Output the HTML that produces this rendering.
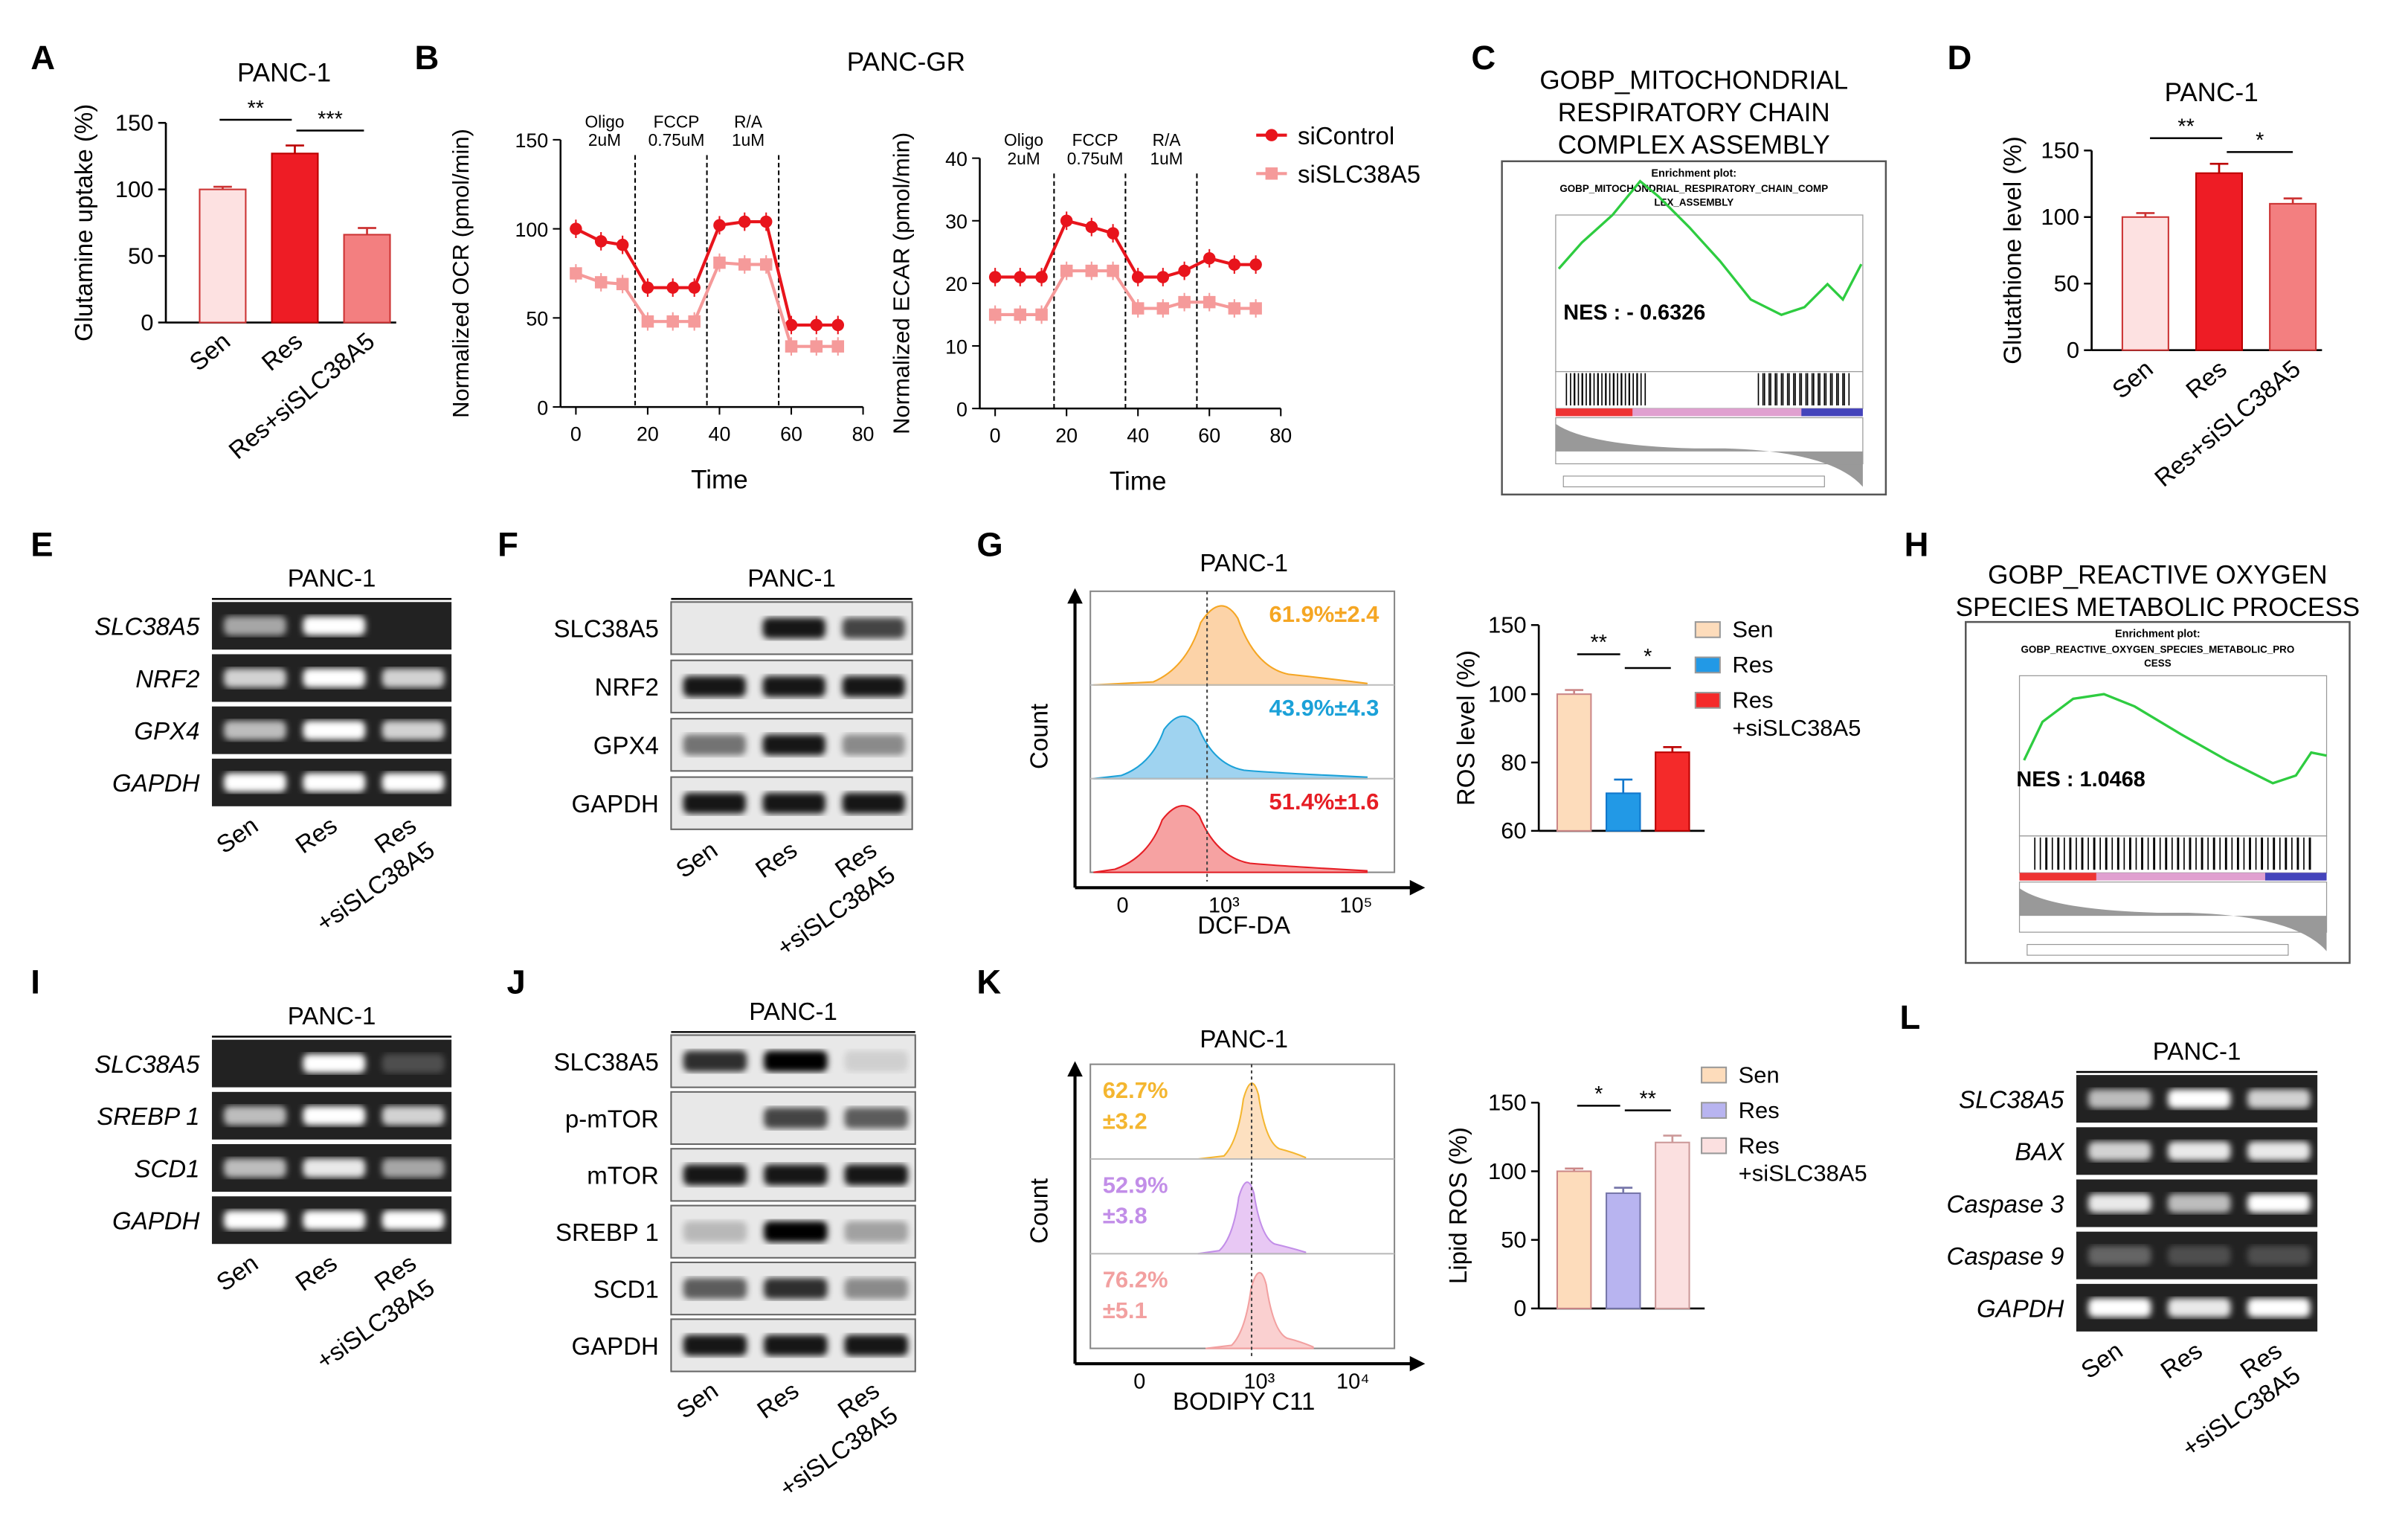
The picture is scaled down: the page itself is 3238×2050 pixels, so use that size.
<!DOCTYPE html>
<html><head><meta charset="utf-8"><style>
html,body{margin:0;padding:0;background:#fff}
svg{display:block}
text{font-family:"Liberation Sans",Arial,sans-serif}
</style></head><body>
<svg id="fig" width="3238" height="2050" viewBox="0 0 1568 993" preserveAspectRatio="none" xmlns="http://www.w3.org/2000/svg">
<defs>
<filter id="blur1"><feGaussianBlur stdDeviation="2"/></filter>
</defs>
<g font-weight="bold" font-size="22" fill="#000">
<text x="20" y="45">A</text><text x="270" y="45">B</text><text x="958" y="45">C</text><text x="1268" y="45">D</text>
<text x="20" y="362">E</text><text x="324" y="362">F</text><text x="636" y="362">G</text><text x="1240" y="362">H</text>
<text x="20" y="647">I</text><text x="330" y="647">J</text><text x="636" y="647">K</text><text x="1237" y="670">L</text>
</g>
<g id="gA"></g>
<g id="gB"></g>
<g id="gC"></g>
<g id="gD"></g>
<g id="gGel"></g>
<g id="gG"></g>
<g id="gK"></g>
</svg>
<script>
const barCats=["Sen","Res","Res+siSLC38A5"];
const glnUptake=[100,127,66];
const glnErr=[2,6,5];
const gshLevel=[100,133,110];
const gshErr=[3,7,4];
const seahorseTime=[0,7,13,20,27,33,40,47,53,60,67,73];
const ocrControl=[100,93,91,67,67,67,102,104,104,46,46,46];
const ocrSi=[75,70,69,48,48,48,81,80,80,34,34,34];
const ecarControl=[21,21,21,30,29,28,21,21,22,24,23,23];
const ecarSi=[15,15,15,22,22,22,16,16,17,17,16,16];
const timeTicks=[0,20,40,60,80];
const rosLevel=[100,71,83];
const rosErr=[3,4,1.5];
const lipidRos=[100,84,121];
const lipidErr=[2,4,5];

const NS="http://www.w3.org/2000/svg";
const svg=document.getElementById('fig');
function el(parent,tag,attrs,txt){const e=document.createElementNS(NS,tag);for(const k in attrs)e.setAttribute(k,attrs[k]);if(txt!==undefined)e.textContent=txt;parent.appendChild(e);return e;}
function lin(d0,d1,r0,r1){return v=>r0+(v-d0)*(r1-r0)/(d1-d0);}

function barChart(g,o){
  const y=o.yfn||lin(o.ymin,o.ymax,o.y0,o.y1);
  el(g,'line',{x1:o.x0,y1:o.y0,x2:o.x0,y2:o.y1,stroke:'#000','stroke-width':1.3});
  el(g,'line',{x1:o.x0,y1:o.y0,x2:o.xEnd,y2:o.y0,stroke:'#000','stroke-width':1.3});
  o.ticks.forEach(t=>{el(g,'line',{x1:o.x0-5,y1:y(t),x2:o.x0,y2:y(t),stroke:'#000','stroke-width':1.2});
    const tx=el(g,'text',{x:o.x0-8,y:y(t)+5,'text-anchor':'end','font-size':o.fs||15},t);
    });
  const lab=el(g,'text',{transform:`translate(${o.labX},${(o.y0+o.y1)/2}) rotate(-90)`,'text-anchor':'middle','font-size':o.lfs||16},o.ylabel);
  
  o.vals.forEach((v,i)=>{const cx=o.x0+o.gap+i*o.step;
    const r=el(g,'rect',{x:cx,y:y(v),width:o.bw,height:o.y0-y(v),fill:o.colors[i],stroke:o.stroke[i],'stroke-width':1});
    
    
    const m=cx+o.bw/2,e=o.err[i];
    el(g,'line',{x1:m,y1:y(v),x2:m,y2:y(v+e),stroke:o.stroke[i],'stroke-width':1.3});
    el(g,'line',{x1:m-6,y1:y(v+e),x2:m+6,y2:y(v+e),stroke:o.stroke[i],'stroke-width':1.3});
    if(o.catLabels){const t=el(g,'text',{transform:`translate(${m+6},${o.y0+14}) rotate(-40)`,'text-anchor':'end','font-size':o.cfs||16},o.cats[i]);
      }
  });
  (o.sig||[]).forEach(s=>{el(g,'line',{x1:s[0],y1:s[2],x2:s[1],y2:s[2],stroke:'#000','stroke-width':1.2});
    el(g,'text',{x:(s[0]+s[1])/2,y:s[2]-3,'text-anchor':'middle','font-size':14},s[3]);});
}
const gA=document.getElementById('gA');
el(gA,'text',{x:185,y:53,'text-anchor':'middle','font-size':17},'PANC-1');
barChart(gA,{x0:108,xEnd:258,y0:210,y1:80,ymin:0,ymax:150,ticks:[0,50,100,150],vals:glnUptake,err:glnErr,cats:barCats,
 colors:['#fde1e1','#ee1c25','#f37f80'],stroke:['#c33','#b00','#c33'],gap:22,step:47,bw:30,labX:60,ylabel:'Glutamine uptake (%)',catLabels:true,
 sig:[[143,190,78,'**'],[193,237,85,'***']]});
const gD=document.getElementById('gD');
el(gD,'text',{x:1440,y:66,'text-anchor':'middle','font-size':17},'PANC-1');
barChart(gD,{x0:1362,xEnd:1512,y0:228,y1:98,ymin:0,ymax:150,ticks:[0,50,100,150],vals:gshLevel,err:gshErr,cats:barCats,
 colors:['#fde1e1','#ee1c25','#f37f80'],stroke:['#c33','#b00','#c33'],gap:20,step:48,bw:30,labX:1316,ylabel:'Glutathione level (%)',catLabels:true,
 sig:[[1400,1447,90,'**'],[1450,1493,99,'*']]});

const gB=document.getElementById('gB');
el(gB,'text',{x:590,y:46,'text-anchor':'middle','font-size':17},'PANC-GR');
function seahorse(o){
  const x=lin(0,80,o.x0,o.x1),y=lin(0,o.ymax,o.y0,o.y1);
  el(gB,'line',{x1:o.x0-10,y1:o.y0,x2:o.x0-10,y2:o.y1,stroke:'#000','stroke-width':1.2});
  el(gB,'line',{x1:o.x0-10,y1:o.y0,x2:o.x1,y2:o.y0,stroke:'#000','stroke-width':1.2});
  o.yt.forEach(t=>{el(gB,'line',{x1:o.x0-15,y1:y(t),x2:o.x0-10,y2:y(t),stroke:'#000'});el(gB,'text',{x:o.x0-18,y:y(t)+5,'text-anchor':'end','font-size':13},t);});
  timeTicks.forEach(t=>{el(gB,'line',{x1:x(t),y1:o.y0,x2:x(t),y2:o.y0+5,stroke:'#000'});el(gB,'text',{x:x(t),y:o.y0+22,'text-anchor':'middle','font-size':13},t);});
  el(gB,'text',{x:(o.x0+o.x1)/2,y:o.y0+53,'text-anchor':'middle','font-size':17},'Time');
  el(gB,'text',{transform:`translate(${o.labX},${(o.y0+o.y1)/2}) rotate(-90)`,'text-anchor':'middle','font-size':15},o.ylabel);
  [16.5,36.5,56.5].forEach(t=>el(gB,'line',{x1:x(t),y1:o.y1+10,x2:x(t),y2:o.y0,stroke:'#000','stroke-dasharray':'3,2'}));
  [['Oligo','2uM',8],['FCCP','0.75uM',28],['R/A','1uM',48]].forEach(a=>{el(gB,'text',{x:x(a[2]),y:o.y1-8,'text-anchor':'middle','font-size':11},a[0]);el(gB,'text',{x:x(a[2]),y:o.y1+4,'text-anchor':'middle','font-size':11},a[1]);});
  [[o.c,'#e8141c','ser-control'],[o.s,'#f59a9a','ser-si']].forEach(([arr,col,nm],k)=>{
    const pts=seahorseTime.map((t,i)=>x(t)+','+y(arr[i])).join(' ');
    const pl=el(gB,'polyline',{points:pts,fill:'none',stroke:col,'stroke-width':2});
    
    seahorseTime.forEach((t,i)=>{
      const m=k==0?el(gB,'circle',{cx:x(t),cy:y(arr[i]),r:4,fill:col}):el(gB,'rect',{x:x(t)-4,y:y(arr[i])-4,width:8,height:8,fill:col});
      
      el(gB,'line',{x1:x(t),y1:y(arr[i])-6,x2:x(t),y2:y(arr[i])+6,stroke:col});});
  });
}
seahorse({x0:375,x1:562,y0:265,y1:91,ymax:150,yt:[0,50,100,150],c:ocrControl,s:ocrSi,labX:305,ylabel:'Normalized OCR (pmol/min)'});
seahorse({x0:648,x1:834,y0:266,y1:103,ymax:40,yt:[0,10,20,30,40],c:ecarControl,s:ecarSi,labX:592,ylabel:'Normalized ECAR (pmol/min)'});
const lg=el(gB,'g',{});
el(lg,'line',{x1:818,y1:88,x2:838,y2:88,stroke:'#e8141c','stroke-width':2});el(lg,'circle',{cx:828,cy:88,r:4,fill:'#e8141c'});
el(lg,'text',{x:845,y:94,'font-size':16},'siControl');
el(lg,'line',{x1:818,y1:113,x2:838,y2:113,stroke:'#f59a9a','stroke-width':2});el(lg,'rect',{x:824,y:109,width:8,height:8,fill:'#f59a9a'});
el(lg,'text',{x:845,y:119,'font-size':16},'siSLC38A5');

function gsea(g,o){
  o.title.forEach((t,i)=>el(g,'text',{x:o.cx,y:o.ty+i*21,'text-anchor':'middle','font-size':17},t));
  el(g,'rect',{x:o.x,y:o.y,width:o.w,height:o.h,fill:'#fff',stroke:'#555','stroke-width':1.2});
  el(g,'text',{x:o.x+o.w/2,y:o.y+10,'text-anchor':'middle','font-size':7,'font-weight':'bold'},'Enrichment plot:');
  el(g,'text',{x:o.x+o.w/2,y:o.y+20,'text-anchor':'middle','font-size':6.5,'font-weight':'bold'},o.sub1);
  el(g,'text',{x:o.x+o.w/2,y:o.y+29,'text-anchor':'middle','font-size':6.5,'font-weight':'bold'},o.sub2);
  const px=o.x+35,pw=o.w-50;
  el(g,'rect',{x:px,y:o.y+35,width:pw,height:o.h*0.47,fill:'none',stroke:'#999','stroke-width':0.6});
  el(g,'path',{d:o.curve,fill:'none',stroke:'#2ecc40','stroke-width':1.6});
  el(g,'text',{x:o.nx,y:o.ny,'font-size':14,'font-weight':'bold'},o.nes);
  const hy=o.y+35+o.h*0.47;
  el(g,'rect',{x:px,y:hy,width:pw,height:24,fill:'#fff',stroke:'#999','stroke-width':0.6});
  o.hits.forEach(xx=>el(g,'line',{x1:xx,y1:hy+1,x2:xx,y2:hy+22,stroke:'#000','stroke-width':0.8}));
  el(g,'rect',{x:px,y:hy+24,width:pw,height:5,fill:'#e0a0d0'});
  el(g,'rect',{x:px,y:hy+24,width:pw*0.25,height:5,fill:'#e33'});el(g,'rect',{x:px+pw*0.8,y:hy+24,width:pw*0.2,height:5,fill:'#44b'});
  el(g,'path',{d:`M${px} ${hy+34} Q${px+20} ${hy+48} ${px+pw*0.45} ${hy+50} L${px+pw*0.55} ${hy+50} Q${px+pw-20} ${hy+52} ${px+pw} ${hy+75} L${px+pw} ${hy+52} L${px} ${hy+52}Z`,fill:'#999'});
  el(g,'rect',{x:px,y:hy+30,width:pw,height:o.y+o.h-hy-50,fill:'none',stroke:'#999','stroke-width':0.6});
  el(g,'rect',{x:o.x+40,y:o.y+o.h-12,width:o.w-80,height:7,fill:'none',stroke:'#888','stroke-width':0.5});
}
const gC=document.getElementById('gC');
const hitsC=[];for(let i=0;i<30;i++)hitsC.push(1020+i*1.7+(i%3));for(let i=0;i<30;i++)hitsC.push(1145+i*2+(i%2));
gsea(gC,{x:978,y:105,w:250,h:217,cx:1103,ty:58,title:['GOBP_MITOCHONDRIAL','RESPIRATORY CHAIN','COMPLEX ASSEMBLY'],
 sub1:'GOBP_MITOCHONDRIAL_RESPIRATORY_CHAIN_COMP',sub2:'LEX_ASSEMBLY',nes:'NES : - 0.6326',nx:1018,ny:208,hits:hitsC,
 curve:'M1015 175 L1030 158 L1050 140 L1068 118 L1080 128 L1100 148 L1120 170 L1140 195 L1160 205 L1175 200 L1190 185 L1200 195 L1212 172'});
const gH=el(svg,'g',{});
const hitsH=[];for(let i=0;i<70;i++)hitsH.push(1325+i*2.6+(i%3));
gsea(gH,{x:1280,y:405,w:250,h:222,cx:1405,ty:380,title:['GOBP_REACTIVE OXYGEN','SPECIES METABOLIC PROCESS'],
 sub1:'GOBP_REACTIVE_OXYGEN_SPECIES_METABOLIC_PRO',sub2:'CESS',nes:'NES : 1.0468',nx:1313,ny:512,hits:hitsH,
 curve:'M1318 495 L1330 470 L1350 455 L1370 452 L1390 460 L1420 478 L1450 495 L1480 510 L1495 505 L1505 490 L1515 492'});

const gGel=document.getElementById('gGel');
function gel(o){
  el(gGel,'text',{x:o.x+o.w/2,y:o.ty,'text-anchor':'middle','font-size':16},'PANC-1');
  el(gGel,'line',{x1:o.x,y1:o.ty+8,x2:o.x+o.w,y2:o.ty+8,stroke:'#000','stroke-width':1.2});
  o.rows.forEach((r,i)=>{
    const yy=o.y+i*(o.rh+o.rg);
    const rr=el(gGel,'rect',{x:o.x,y:yy,width:o.w,height:o.rh,fill:o.wb?'#e8e8e8':'#222',stroke:o.wb?'#666':'none','stroke-width':1});
    
    el(gGel,'text',{x:o.x-8,y:yy+o.rh/2+6,'text-anchor':'end','font-size':16,'font-style':o.wb?'normal':'italic'},r[0]);
    r.slice(1).forEach((inten,j)=>{if(inten<=0)return;
      const bx=o.x+o.w*(j*0.33+0.05),bw=o.w*0.26;
      el(gGel,'rect',{x:bx,y:yy+o.rh*0.3,width:bw,height:o.rh*0.4,rx:4,fill:o.wb?'#000':'#fff',opacity:inten,filter:'url(#blur1)'});});
  });
  ['Sen','Res','Res','+siSLC38A5'].forEach((c,i)=>{
    const j=i<2?i:2;const cx=o.x+o.w*(j*0.33+0.2)+(i==3?12:0);const cy=o.y+o.rows.length*(o.rh+o.rg)+12+(i==3?16:0);
    el(gGel,'text',{transform:`translate(${cx},${cy}) rotate(-35)`,'text-anchor':'end','font-size':16},c);});
}
gel({x:138,y:392,w:156,rh:31,rg:3,ty:382,rows:[['SLC38A5',0.6,1,0],['NRF2',0.8,1,0.8],['GPX4',0.7,1,0.8],['GAPDH',1,1,1]]});
gel({x:437,y:392,w:157,rh:34,rg:4,ty:382,wb:true,rows:[['SLC38A5',0,0.9,0.7],['NRF2',0.9,0.9,0.9],['GPX4',0.5,0.9,0.4],['GAPDH',0.9,0.9,0.9]]});
gel({x:138,y:677,w:156,rh:31,rg:3,ty:667,rows:[['SLC38A5',0,1,0.2],['SREBP 1',0.7,1,0.8],['SCD1',0.7,0.9,0.6],['GAPDH',1,1,1]]});
gel({x:437,y:674,w:159,rh:34,rg:3,ty:664,wb:true,rows:[['SLC38A5',0.8,1,0.1],['p-mTOR',0,0.7,0.6],['mTOR',0.9,0.9,0.9],['SREBP 1',0.2,1,0.3],['SCD1',0.6,0.8,0.4],['GAPDH',0.9,0.9,0.9]]});
gel({x:1352,y:700,w:157,rh:31,rg:3,ty:690,rows:[['SLC38A5',0.7,1,0.8],['BAX',0.8,0.9,0.9],['Caspase 3',0.9,0.7,1],['Caspase 9',0.3,0.2,0.2],['GAPDH',1,0.9,1]]});

function flow(g,o){
  el(g,'text',{x:o.x0+110,y:o.ty,'text-anchor':'middle','font-size':16},'PANC-1');
  el(g,'line',{x1:o.x0,y1:o.y1,x2:o.x0,y2:o.y0+4,stroke:'#000','stroke-width':2});
  el(g,'path',{d:`M${o.x0-5} ${o.y1+8} L${o.x0} ${o.y1-2} L${o.x0+5} ${o.y1+8}Z`});
  el(g,'line',{x1:o.x0,y1:o.y0+4,x2:o.x0+220,y2:o.y0+4,stroke:'#000','stroke-width':2});
  el(g,'path',{d:`M${o.x0+218} ${o.y0-1} L${o.x0+228} ${o.y0+4} L${o.x0+218} ${o.y0+9}Z`});
  el(g,'rect',{x:o.x0+10,y:o.y1,width:198,height:o.y0-o.y1-6,fill:'none',stroke:'#888'});
  el(g,'text',{transform:`translate(${o.x0-18},${(o.y0+o.y1)/2}) rotate(-90)`,'text-anchor':'middle','font-size':16},'Count');
  el(g,'text',{x:o.x0+110,y:o.y0+34,'text-anchor':'middle','font-size':16},o.xlabel);
  o.xt.forEach(t=>el(g,'text',{x:t[0],y:o.y0+20,'text-anchor':'middle','font-size':14},t[1]));
  const h=(o.y0-6-o.y1)/3;
  o.hist.forEach((hf,i)=>{const base=o.y1+h*(i+1);
    el(g,'path',{d:hf(base,h),fill:o.fills[i],stroke:o.strokes[i],'stroke-width':1});
    if(i<2)el(g,'line',{x1:o.x0+10,y1:base,x2:o.x0+208,y2:base,stroke:'#bbb'});
    o.labels[i].forEach((l,k)=>el(g,'text',{x:o.lx,y:o.y1+h*i+o.ly+k*20,'font-size':15,'font-weight':'bold',fill:o.strokes[i],'text-anchor':o.la},l));
  });
  el(g,'line',{x1:o.vline,y1:o.y1,x2:o.vline,y2:o.y0,stroke:'#444','stroke-dasharray':'2,2'});
}
function spike(x0,x1,peak,w,frac){
  return (base,h)=>{const hg=h*frac;
    return `M${x0} ${base} L${peak-w*2} ${base-2} Q${peak-w} ${base-hg*0.2} ${peak-w*0.6} ${base-hg*0.7} Q${peak} ${base-hg*1.05} ${peak+w*0.5} ${base-hg*0.75} Q${peak+w} ${base-hg*0.2} ${peak+w*2} ${base-hg*0.12} Q${peak+w*3} ${base-hg*0.08} ${x1} ${base-1} L${x1} ${base} Z`;};
}
const gG=document.getElementById('gG');
flow(gG,{x0:700,y0:574,y1:385,ty:372,xlabel:'DCF-DA',xt:[[731,'0'],[797,'10³'],[883,'10⁵']],vline:786,
 hist:[spike(712,890,795,22,0.95),spike(712,890,770,20,0.75),spike(712,890,770,22,0.8)],
 fills:['#fcd3a8','#9fd3f0','#f6a2a2'],strokes:['#f5a623','#1ba1d8','#e61e25'],
 labels:[['61.9%±2.4'],['43.9%±4.3'],['51.4%±1.6']],lx:898,ly:20,la:'end'});
const rosY=v=>v<=100?541-(v-60)*(541-452)/40:452-(v-100)*(452-407)/50;
barChart(gG,{x0:1002,xEnd:1110,y0:541,y1:407,yfn:rosY,ticks:[60,80,100,150],vals:rosLevel,err:rosErr,cats:barCats,
 colors:['#fddcbb','#2299e6','#f42a2a'],stroke:['#c88','#17c','#b00'],gap:12,step:32,bw:22,labX:960,ylabel:'ROS level (%)',catLabels:false,
 sig:[[1027,1055,426,'**'],[1058,1088,435,'*']]});
const lgG=[['Sen','#fddcbb'],['Res','#2299e6'],['Res','#f42a2a']];
lgG.forEach((l,i)=>{el(gG,'rect',{x:1104,y:405+i*23,width:16,height:10,fill:l[1],stroke:'#999'});el(gG,'text',{x:1128,y:415+i*23,'font-size':15},l[0]);});
el(gG,'text',{x:1128,y:479,'font-size':15},'+siSLC38A5');

const gK=document.getElementById('gK');
flow(gK,{x0:700,y0:884,y1:693,ty:682,xlabel:'BODIPY C11',xt:[[742,'0'],[820,'10³'],[881,'10⁴']],vline:815,
 hist:[spike(780,850,815,9,0.9),spike(780,850,812,9,0.85),spike(785,855,820,9,0.9)],
 fills:['#fde0c0','#e8c8f4','#fad0d0'],strokes:['#f4b630','#c28ee8','#f2a0a0'],
 labels:[['62.7%','±3.2'],['52.9%','±3.8'],['76.2%','±5.1']],lx:718,ly:22,la:'start'});
barChart(gK,{x0:1002,xEnd:1110,y0:852,y1:718,ymin:0,ymax:150,ticks:[0,50,100,150],vals:lipidRos,err:lipidErr,cats:barCats,
 colors:['#fddcbb','#b8b4f0','#fbe0e0'],stroke:['#c88','#77a','#c99'],gap:12,step:32,bw:22,labX:955,ylabel:'Lipid ROS (%)',catLabels:false,
 sig:[[1027,1055,720,'*'],[1058,1088,723,'**']]});
const lgK=[['Sen','#fddcbb'],['Res','#b8b4f0'],['Res','#fbe0e0']];
lgK.forEach((l,i)=>{el(gK,'rect',{x:1108,y:695+i*23,width:16,height:10,fill:l[1],stroke:'#999'});el(gK,'text',{x:1132,y:705+i*23,'font-size':15},l[0]);});
el(gK,'text',{x:1132,y:769,'font-size':15},'+siSLC38A5');
</script>
</body></html>
